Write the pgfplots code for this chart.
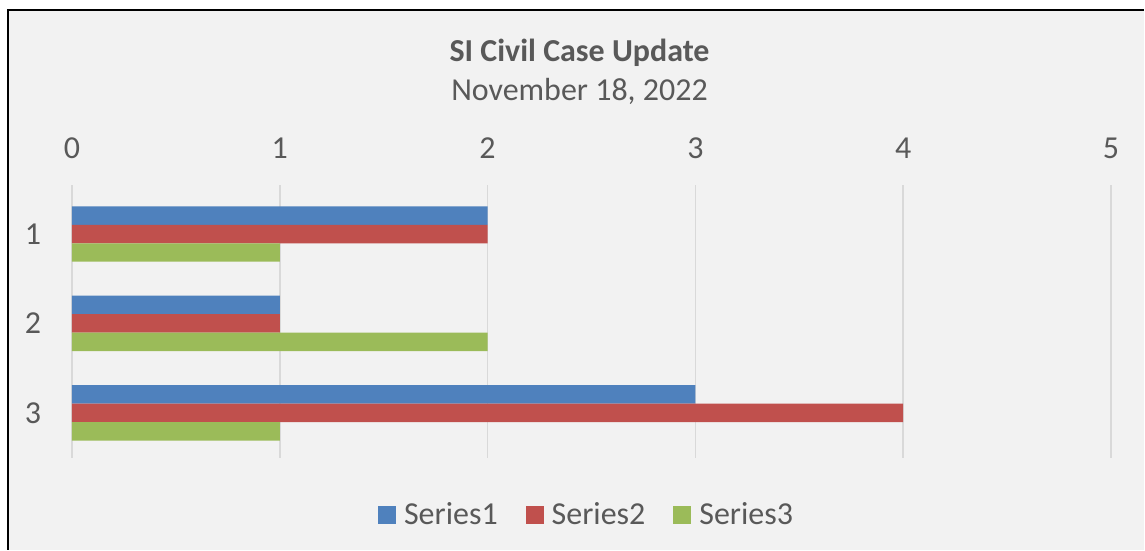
\documentclass[border=0pt]{standalone}
\usepackage{fontspec}
\setmainfont{Carlito}
\usepackage{pgfplots}
\pgfplotsset{compat=1.18}
\definecolor{bg}{HTML}{F2F2F2}
\definecolor{txt}{HTML}{595959}
\definecolor{gridc}{HTML}{D9D9D9}
\definecolor{s1}{HTML}{4F81BD}
\definecolor{s2}{HTML}{C0504D}
\definecolor{s3}{HTML}{9BBB59}
\begin{document}
\begin{tikzpicture}
\fill[white] (0,0) rectangle (572.5pt,275pt);
\fill[bg] (4.25pt,0) rectangle (572.5pt,269.75pt);
\draw[black,line width=1pt] (4.25pt,0) -- (4.25pt,269.75pt) -- (572.5pt,269.75pt);
\useasboundingbox (0,0) rectangle (572.5pt,275pt);
\node[font=\fontsize{16}{19}\selectfont\bfseries, text=txt] at (290pt,248.5pt) {SI Civil Case Update};
\node[font=\fontsize{16}{19}\selectfont, text=txt] at (290pt,229pt) {November 18, 2022};
\begin{axis}[
  at={(36pt,46pt)}, anchor=south west,
  scale only axis, width=520pt, height=136.5pt,
  xbar, bar width=9.25pt,
  xmin=0, xmax=5, xtick={0,1,2,3,4,5},
  ymin=0.5, ymax=3.55, ytick={1,2,3}, yticklabels={3,2,1},
  xticklabel pos=upper,
  /pgf/number format/assume math mode=true,
  axis line style={draw=none},
  major tick length=0pt,
  xmajorgrids, grid style={gridc, line width=0.75pt},
  tick label style={font=\fontsize{16}{19}\selectfont, text=txt},
  xticklabel style={anchor=center, yshift=18.5pt},
  yticklabel style={anchor=center, xshift=-19.5pt},
  legend columns=3,
  legend style={at={(0.4962,0)}, anchor=center, yshift=-28.5pt, draw=none, fill=none,
    font=\fontsize{16}{19}\selectfont, text=txt,
    /tikz/every even column/.append style={column sep=12pt}},
  legend image code/.code={\fill[#1] (0pt,-4.5pt) rectangle (9pt,4.5pt); \path (11pt,0pt);},
]
\addplot[fill=s1, draw=none, bar shift=9.25pt] coordinates {(2,3) (1,2) (3,1)};
\addplot[fill=s2, draw=none, bar shift=0pt] coordinates {(2,3) (1,2) (4,1)};
\addplot[fill=s3, draw=none, bar shift=-9.25pt] coordinates {(1,3) (2,2) (1,1)};
\legend{Series1, Series2, Series3}
\end{axis}
\end{tikzpicture}
\end{document}
